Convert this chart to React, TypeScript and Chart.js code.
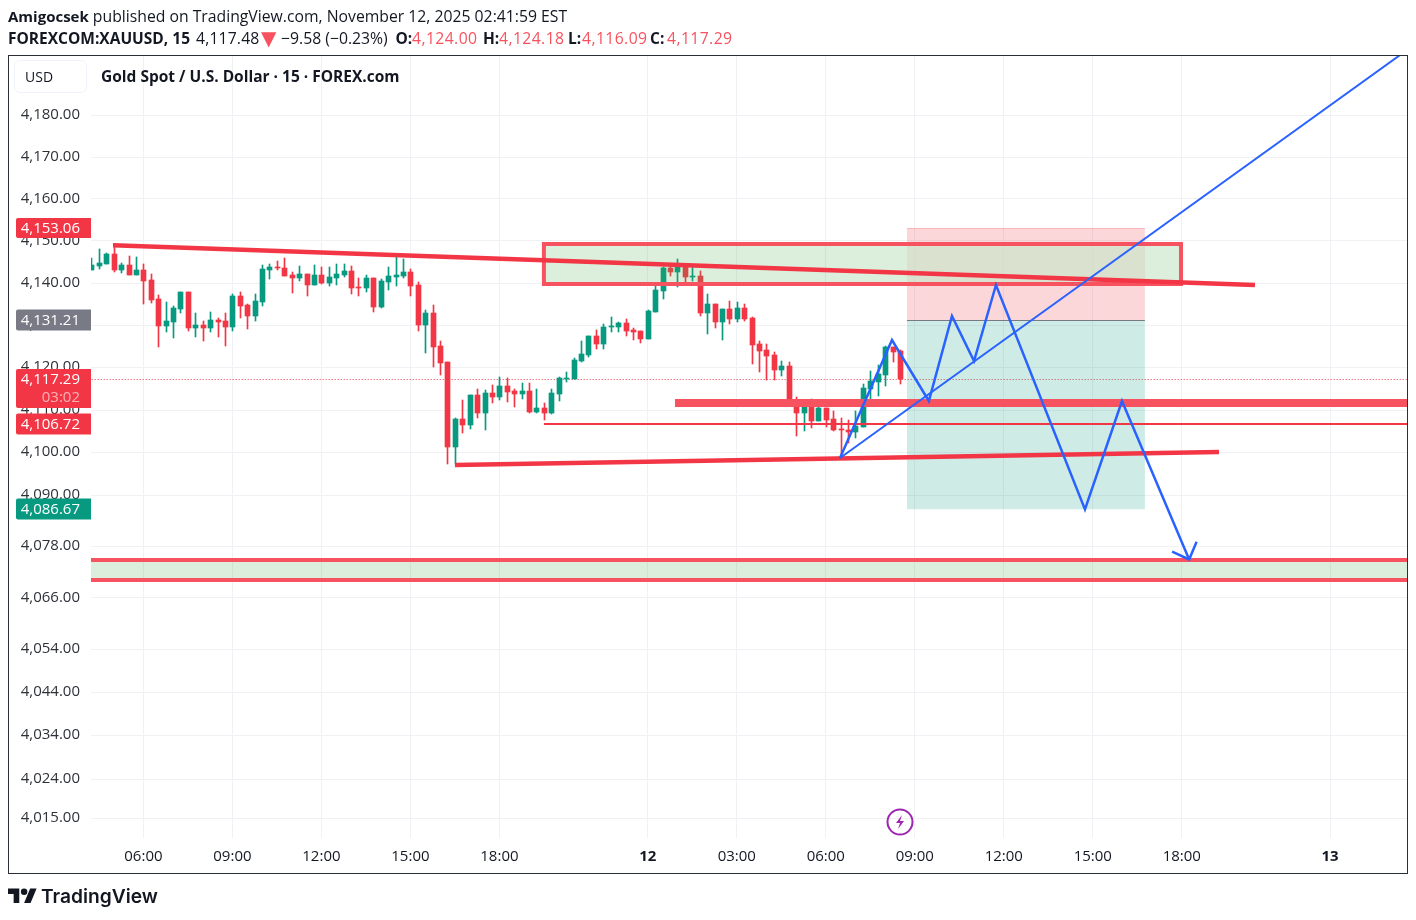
import React, { useEffect, useRef } from "react";
import { Chart, registerables } from "chart.js";

Chart.register(...registerables);

const opens = [4143.2,4144.1,4144.6,4146.9,4143.2,4144.3,4142.0,4143.2,4140.8,4136.3,4129.9,4130.8,4133.9,4137.9,4129.4,4130.1,4129.4,4131.3,4131.1,4129.6,4137.0,4134.9,4132.3,4135.6,4143.2,4143.8,4143.6,4142.0,4141.3,4142.2,4139.6,4142.0,4140.1,4141.3,4142.0,4142.9,4139.1,4138.9,4141.3,4134.4,4140.3,4141.5,4141.7,4142.7,4139.6,4130.1,4133.0,4125.1,4121.4,4101.2,4107.8,4106.4,4113.5,4109.3,4114.0,4113.1,4115.7,4114.5,4113.8,4114.5,4109.5,4110.4,4109.3,4113.8,4117.3,4117.3,4121.6,4123.0,4127.5,4125.6,4129.6,4129.6,4130.6,4128.9,4128.7,4126.8,4133.2,4138.2,4143.6,4142.7,4143.9,4141.5,4141.7,4133.0,4135.1,4130.8,4133.9,4131.5,4134.1,4131.8,4125.6,4124.2,4123.0,4119.5,4120.4,4112.1,4109.3,4111.6,4107.4,4110.4,4107.8,4105.5,4105.2,4104.8,4105.9,4115.0,4116.6,4118.3,4124.9,4124.0];
const highs = [4146.0,4148.1,4147.2,4149.3,4144.8,4146.5,4146.2,4144.6,4142.2,4137.2,4135.6,4134.6,4137.9,4137.9,4133.0,4131.1,4133.2,4131.8,4133.0,4137.5,4137.9,4135.1,4137.5,4144.3,4144.6,4145.3,4146.0,4142.7,4144.1,4142.2,4144.3,4143.9,4143.9,4144.6,4144.6,4144.1,4141.3,4142.0,4141.3,4141.0,4143.9,4146.7,4145.8,4143.4,4140.3,4133.7,4134.9,4126.3,4121.4,4108.1,4112.3,4113.5,4115.0,4114.7,4115.9,4117.8,4117.6,4115.0,4116.4,4116.4,4115.0,4111.6,4115.0,4117.8,4119.0,4122.3,4126.3,4127.5,4128.9,4130.4,4132.0,4130.8,4131.5,4129.4,4128.7,4133.7,4139.4,4143.9,4144.3,4145.8,4144.6,4144.3,4142.9,4137.5,4135.1,4133.9,4135.8,4135.6,4135.1,4132.0,4126.3,4125.6,4123.7,4121.6,4121.4,4113.1,4111.6,4112.6,4112.3,4110.4,4109.7,4108.1,4107.6,4109.7,4116.1,4119.2,4120.6,4125.1,4124.9,4124.18];
const lows = [4143.2,4143.4,4144.6,4142.7,4142.4,4142.0,4142.0,4135.1,4135.3,4124.9,4128.5,4127.0,4133.0,4128.7,4127.3,4126.3,4128.5,4127.3,4125.1,4128.7,4131.8,4129.2,4131.1,4134.6,4141.0,4143.2,4141.7,4137.7,4140.5,4137.0,4139.6,4139.8,4139.4,4139.6,4141.5,4137.5,4137.0,4137.9,4133.2,4134.1,4138.4,4139.4,4141.3,4137.0,4128.7,4123.5,4120.2,4118.3,4097.2,4097.2,4104.5,4105.5,4108.1,4105.2,4111.6,4112.3,4111.9,4110.7,4112.6,4109.3,4109.3,4107.6,4109.0,4112.1,4116.6,4117.3,4121.4,4122.5,4124.4,4124.4,4128.5,4128.5,4127.5,4126.6,4125.9,4126.8,4133.2,4136.3,4141.7,4139.1,4139.6,4140.5,4132.3,4128.0,4129.4,4126.6,4130.4,4130.8,4131.1,4120.9,4119.0,4117.1,4117.1,4118.0,4111.9,4103.8,4105.0,4105.7,4107.4,4105.9,4105.0,4098.6,4102.2,4103.3,4105.9,4112.1,4113.3,4115.7,4121.4,4116.09];
const closes = [4144.3,4144.8,4146.9,4143.2,4144.3,4142.0,4143.2,4140.5,4136.0,4129.9,4131.1,4134.1,4137.9,4129.4,4130.1,4129.4,4131.3,4130.8,4129.6,4137.0,4134.6,4132.3,4135.8,4143.4,4143.9,4143.6,4141.7,4141.3,4142.2,4139.6,4142.0,4140.1,4141.5,4142.2,4142.9,4138.9,4138.9,4141.3,4134.4,4140.5,4141.7,4142.0,4142.7,4139.4,4130.1,4133.0,4124.9,4121.1,4101.2,4107.8,4106.4,4113.5,4109.3,4114.0,4113.1,4115.7,4114.2,4113.8,4114.5,4109.5,4110.4,4109.3,4114.0,4117.6,4117.6,4121.8,4123.2,4127.5,4125.6,4129.6,4129.9,4130.6,4128.7,4128.5,4126.8,4133.4,4138.4,4143.6,4142.7,4143.9,4141.5,4141.7,4133.0,4135.1,4130.8,4133.9,4131.5,4134.1,4131.5,4125.4,4124.0,4122.8,4119.5,4120.4,4111.9,4109.3,4111.6,4107.4,4110.4,4107.6,4105.2,4105.2,4104.8,4106.2,4115.2,4116.8,4118.5,4124.9,4123.7,4117.29];

const priceTicks = [4180,4170,4160,4150,4140,4130,4120,4110,4100,4090,4078,4066,4054,4044,4034,4024,4015];
const timeTickBars = [7,19,31,43,55,75,87,99,111,123,135,147,167];
const timeTickLabels = ["06:00","09:00","12:00","15:00","18:00","12","03:00","06:00","09:00","12:00","15:00","18:00","13"];
const boldTimeLabels = ["12","13"];

const lastPrice = 4117.29;
const countdown = "03:02";
const stopPrice = 4153.06;
const entryPrice = 4131.21;
const supportPrice = 4106.72;
const targetPrice = 4086.67;

const positionBars = [109.95, 142.03];
const upperTrend = [{ x: 2.9, y: 4149.0 }, { x: 156.87, y: 4139.55 }];
const lowerTrend = [{ x: 49, y: 4097.07 }, { x: 152.02, y: 4100.12 }];
const upperZoneBars = [61, 146.9];
const upperZonePrices = [4149.27, 4139.8];
const lowerZoneBars = [-2, 180];
const lowerZonePrices = [4074.84, 4070.17];
const thickLevel = [{ x: 78.67, y: 4111.65 }, { x: 180, y: 4111.65 }];
const thinLevel = [{ x: 61, y: supportPrice }, { x: 180, y: supportPrice }];
const blueRay = [{ x: 100.92, y: 4098.72 }, { x: 176.4, y: 4194.42 }];
const blueZigzag = [
  { x: 100.92, y: 4098.72 }, { x: 107.93, y: 4126.52 }, { x: 112.9, y: 4112.12 },
  { x: 116.02, y: 4132.2 }, { x: 118.99, y: 4121.56 }, { x: 121.95, y: 4139.55 },
  { x: 133.95, y: 4086.67 }, { x: 138.94, y: 4112.12 }, { x: 148, y: 4074.94 },
];
const blueArrow = [{ x: 145.7, y: 4076.76 }, { x: 148, y: 4074.94 }, { x: 149, y: 4079.09 }];

const GREEN = "#089981";
const RED = "#f23645";
const SOFT_RED = "#f7525f";
const BLUE = "#2962ff";
const GRID = "#f0f1f5";
const FONT = '"Open Sans", "Noto Sans", sans-serif';

const fmt = (v: number) =>
  v.toLocaleString("en-US", { minimumFractionDigits: 2, maximumFractionDigits: 2 });

const indices = opens.map((_, i) => i);
const candleColors = indices.map((i) => (closes[i] >= opens[i] ? GREEN : RED));

const line = (label: string, data: any[], color: string, width: number, order: number, extra: any = {}) => ({
  type: "line",
  label,
  data,
  borderColor: color,
  borderWidth: width,
  pointRadius: 0,
  tension: 0,
  clip: 0,
  order,
  borderCapStyle: "butt",
  borderJoinStyle: "miter",
  ...extra,
});

const band = (label: string, bars: number[], from: number, to: number, color: string, order: number) =>
  line(label, [{ x: bars[0], y: from }, { x: bars[1], y: from }], "transparent", 0, order, {
    fill: { target: { value: to }, above: color, below: color },
  });

const outline = (label: string, bars: number[], prices: number[], order: number) =>
  line(
    label,
    [
      { x: bars[0], y: prices[0] }, { x: bars[1], y: prices[0] }, { x: bars[1], y: prices[1] },
      { x: bars[0], y: prices[1] }, { x: bars[0], y: prices[0] }, { x: bars[1], y: prices[0] },
    ],
    SOFT_RED, 4, order
  );

const snapPlugin = {
  id: "snap",
  beforeDatasetsDraw(chart: any) {
    chart.data.datasets.forEach((ds: any, i: number) => {
      const meta = chart.getDatasetMeta(i);
      if (ds.type === "bar") {
        for (const el of meta.data) {
          el.x = Math.round(el.x) + 0.5;
          const top = Math.round(Math.min(el.y, el.base));
          let bottom = Math.round(Math.max(el.y, el.base));
          if (bottom <= top) bottom = top + 1;
          el.y = top;
          el.base = bottom;
        }
      } else if (ds.snap) {
        for (const p of meta.data) p.y = Math.round(p.y) + 0.5;
      }
    });
  },
};

const overlayPlugin = {
  id: "overlay",
  afterDraw(chart: any) {
    const { ctx, scales } = chart;
    const y = scales.y;
    ctx.save();
    ctx.strokeStyle = "#2a2e39";
    ctx.lineWidth = 1;
    ctx.strokeRect(8.5, 55.5, 1399, 818);

    const tags = [
      { price: stopPrice, color: RED, h: 20 },
      { price: entryPrice, color: "#787b86", h: 21 },
      { price: supportPrice, color: RED, h: 21 },
      { price: targetPrice, color: GREEN, h: 21 },
    ];
    ctx.font = `15px ${FONT}`;
    ctx.textAlign = "right";
    ctx.textBaseline = "middle";
    for (const t of tags) {
      const py = Math.round(y.getPixelForValue(t.price));
      ctx.fillStyle = t.color;
      ctx.beginPath();
      ctx.roundRect(16, py - t.h / 2, 75, t.h, [2, 0, 0, 2]);
      ctx.fill();
      ctx.fillStyle = "#ffffff";
      ctx.fillText(fmt(t.price), 80, py + 0.5);
    }
    const ly = Math.round(y.getPixelForValue(lastPrice));
    ctx.fillStyle = RED;
    ctx.beginPath();
    ctx.roundRect(16, ly - 10, 75, 39, [2, 0, 0, 2]);
    ctx.fill();
    ctx.fillStyle = "#ffffff";
    ctx.fillText(fmt(lastPrice), 80, ly + 0.5);
    ctx.fillStyle = "rgba(255,255,255,0.6)";
    ctx.fillText(countdown, 80, ly + 18.5);

    ctx.strokeStyle = "#9c27b0";
    ctx.lineWidth = 2;
    ctx.beginPath();
    ctx.arc(900, 822, 12.5, 0, Math.PI * 2);
    ctx.stroke();
    ctx.fillStyle = "#9c27b0";
    ctx.beginPath();
    ctx.moveTo(902, 815);
    ctx.lineTo(896, 823);
    ctx.lineTo(900, 823);
    ctx.lineTo(898, 829);
    ctx.lineTo(904, 821);
    ctx.lineTo(900, 821);
    ctx.closePath();
    ctx.fill();
    ctx.restore();
  },
};

const abs = (left: number, top: number, extra: React.CSSProperties = {}): React.CSSProperties => ({
  position: "absolute",
  left,
  top,
  whiteSpace: "nowrap",
  ...extra,
});

const num = (left: number, text: string, color?: string, spacing = 0.4) => (
  <span style={abs(left, 28, { fontSize: 15.75, lineHeight: "20px", letterSpacing: spacing, color })}>{text}</span>
);
const key = (left: number, text: string) => (
  <span style={abs(left, 28, { fontSize: 15.5, lineHeight: "20px", fontWeight: 700 })}>{text}</span>
);

export default function App() {
  const ref = useRef<HTMLCanvasElement>(null);

  useEffect(() => {
    const chart = new Chart(ref.current as HTMLCanvasElement, {
      type: "bar",
      data: {
        datasets: [
          line("Last price", [{ x: -2, y: lastPrice }, { x: 180, y: lastPrice }], RED, 1, 100, { borderDash: [1, 2], snap: true }),
          {
            type: "bar",
            label: "Wicks",
            data: indices.map((i) => ({ x: i, y: [lows[i], highs[i]] })),
            backgroundColor: candleColors,
            barThickness: 1,
            grouped: false,
            order: 90,
          },
          {
            type: "bar",
            label: "Bodies",
            data: indices.map((i) => ({ x: i, y: [Math.min(opens[i], closes[i]), Math.max(opens[i], closes[i])] })),
            backgroundColor: candleColors,
            barThickness: 5,
            minBarLength: 1,
            grouped: false,
            order: 80,
          },
          band("Risk", positionBars, stopPrice, entryPrice, "rgba(242,54,69,0.2)", 70),
          band("Reward", positionBars, entryPrice, targetPrice, "rgba(8,153,129,0.2)", 69),
          line("Risk top", [{ x: positionBars[0], y: stopPrice }, { x: positionBars[1], y: stopPrice }], "rgba(242,54,69,0.25)", 1, 69, { snap: true }),
          line("Entry", [{ x: positionBars[0], y: entryPrice }, { x: positionBars[1], y: entryPrice }], "#787b86", 1, 68, { snap: true }),
          band("Upper zone", upperZoneBars, upperZonePrices[0], upperZonePrices[1], "rgba(76,175,80,0.2)", 60),
          band("Zone overlap", positionBars, upperZonePrices[0], upperZonePrices[1], "rgba(218,240,218,0.55)", 59.5),
          outline("Upper zone border", upperZoneBars, upperZonePrices, 59),
          band("Lower zone", lowerZoneBars, lowerZonePrices[0], lowerZonePrices[1], "rgba(76,175,80,0.2)", 58),
          line("Lower zone top", [{ x: lowerZoneBars[0], y: lowerZonePrices[0] }, { x: lowerZoneBars[1], y: lowerZonePrices[0] }], SOFT_RED, 4, 57),
          line("Lower zone bottom", [{ x: lowerZoneBars[0], y: lowerZonePrices[1] }, { x: lowerZoneBars[1], y: lowerZonePrices[1] }], SOFT_RED, 4, 57),
          line("Upper trend", upperTrend, RED, 4.5, 50),
          line("Lower trend", lowerTrend, RED, 4.5, 49),
          line("Thick level", thickLevel, SOFT_RED, 8, 48),
          line("Thin level", thinLevel, RED, 2, 47),
          line("Blue ray", blueRay, BLUE, 2, 40),
          line("Blue zigzag", blueZigzag, BLUE, 2.5, 39),
          line("Blue arrow", blueArrow, BLUE, 2.5, 38),
        ] as any,
      },
      options: {
        responsive: false,
        animation: false,
        layout: { padding: { top: 56, right: 9, bottom: 46, left: 0 } },
        plugins: { legend: { display: false }, tooltip: { enabled: false } },
        scales: {
          x: {
            type: "linear",
            offset: false,
            min: -0.067,
            max: 177.37,
            border: { display: false },
            grid: { offset: false, color: GRID, lineWidth: 1, drawTicks: false },
            afterBuildTicks: (s: any) => {
              s.ticks = timeTickBars.map((value) => ({ value }));
            },
            afterFit: (s: any) => {
              s.height = 36;
            },
            ticks: {
              autoSkip: false,
              maxRotation: 0,
              padding: 10,
              color: "#131722",
              font: (ctx: any) => {
                const label = timeTickLabels[timeTickBars.indexOf(ctx.tick?.value)];
                return { family: FONT, size: 15, weight: boldTimeLabels.includes(label) ? "bold" : "normal" };
              },
              callback: (v: any) => timeTickLabels[timeTickBars.indexOf(v)],
            },
          },
          y: {
            type: "logarithmic",
            position: "left",
            beginAtZero: false,
            min: 4010.42,
            max: 4194.23,
            border: { display: false },
            grid: { color: GRID, lineWidth: 1, drawTicks: false },
            afterBuildTicks: (s: any) => {
              s.ticks = priceTicks.map((value) => ({ value }));
            },
            afterFit: (s: any) => {
              s.width = 91;
            },
            ticks: {
              autoSkip: false,
              padding: 11,
              labelOffset: -0.5,
              color: "#2e3238",
              font: { family: FONT, size: 15 },
              callback: (v: any) => fmt(Number(v)),
            },
          },
        },
      } as any,
      plugins: [snapPlugin, overlayPlugin],
    });
    return () => chart.destroy();
  }, []);

  const red = SOFT_RED;
  return (
    <div style={{ position: "absolute", left: 0, top: 0, width: 1416, height: 920, background: "#fff", overflow: "hidden", fontFamily: FONT, color: "#131722" }}>
      <canvas ref={ref} width={1416} height={920} style={{ position: "absolute", left: 0, top: 0, width: 1416, height: 920 }} />
      <div style={abs(8, 6, { fontSize: 15.75, lineHeight: "20px" })}>
        <b style={{ fontSize: 15 }}>Amigocsek</b> published on TradingView.com, November 12, 2025 02:41:59 EST
      </div>
      {key(8, "FOREXCOM:XAUUSD, 15")}
      {num(196, "4,117.48", undefined, 0.15)}
      <span style={abs(261, 26, { fontSize: 20, lineHeight: "24px", color: red, fontFamily: "DejaVu Sans" })}>▼</span>
      {num(281, "−9.58 (−0.23%)", undefined, 0)}
      {key(395.5, "O:")}
      {num(412, "4,124.00", red)}
      {key(483, "H:")}
      {num(499, "4,124.18", red)}
      {key(568, "L:")}
      {num(582, "4,116.09", red)}
      {key(650, "C:")}
      {num(667, "4,117.29", red)}
      <div style={abs(14, 60, { width: 73, height: 33, boxSizing: "border-box", border: "1px solid #f0f3fa", borderRadius: 6, fontSize: 14, lineHeight: "31px", paddingLeft: 10 })}>USD</div>
      <div style={abs(101, 66, { fontSize: 15.5, lineHeight: "20px", fontWeight: 700 })}>Gold Spot / U.S. Dollar · 15 · FOREX.com</div>
      <svg style={abs(8, 885)} width="29" height="23" viewBox="0 0 36 28">
        <path d="M14 22H7V11H0V4h14v18zM28 22h-8l7.5-18h8L28 22z" fill="#131722" />
        <circle cx="20" cy="8" r="4" fill="#131722" />
      </svg>
      <div style={abs(41, 882, { fontSize: 19.2, lineHeight: "28px", fontWeight: 600, fontFamily: "Inter, sans-serif" })}>TradingView</div>
    </div>
  );
}
